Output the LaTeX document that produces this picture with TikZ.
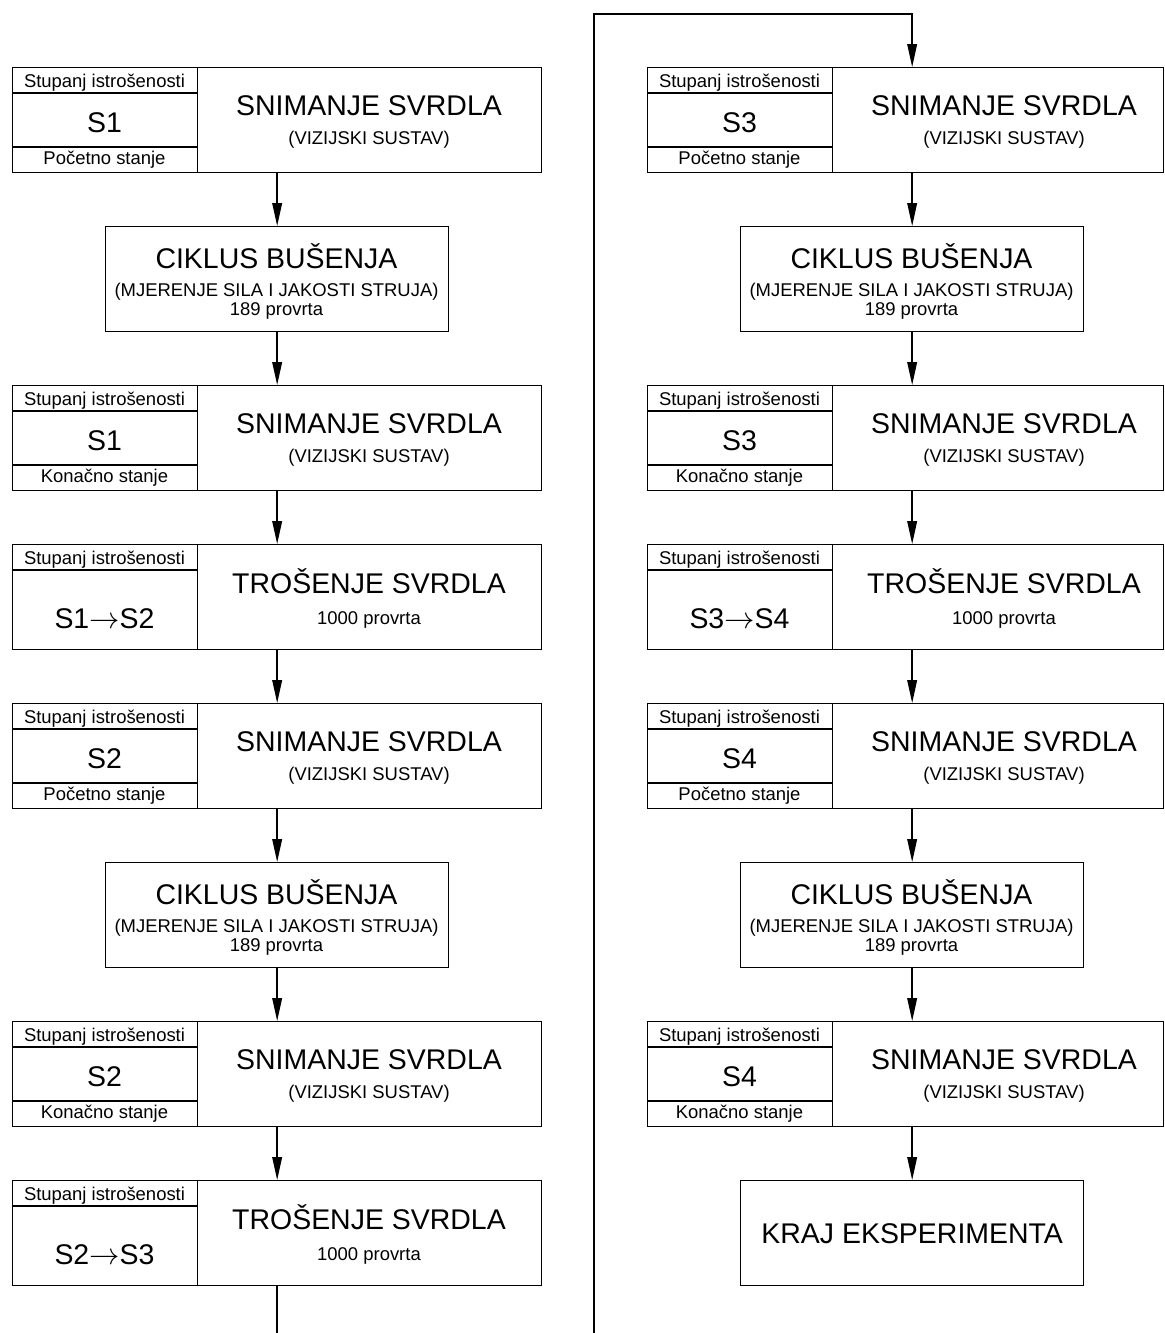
\documentclass[tikz,border=0pt]{standalone}
\usepackage{fontspec}
\setmainfont{Liberation Sans}
\usetikzlibrary{positioning,arrows.meta,calc}

\begin{document}
\begin{tikzpicture}[
    x=0.02cm, y=-0.02cm,
    box/.style={draw, line width=0.8pt, inner sep=0pt, anchor=north west, minimum height=2.1cm},
    big/.style={font=\fontsize{16.2pt}{18pt}\selectfont, inner sep=0pt, anchor=base},
    small/.style={font=\fontsize{10.5pt}{12pt}\selectfont, inner sep=0pt, anchor=base},
    arr/.style={line width=0.8pt, -{Triangle[length=13pt, width=5.5pt]}},
]
\useasboundingbox (0,0) rectangle (1165,1333);

% Snimanje svrdla
\foreach \n/\xo/\w/\tp/\st/\ft in {L1/0/344/67/S1/Početno stanje, L3/0/344/385/S1/Konačno stanje,
    L5/0/344/703/S2/Početno stanje, L7/0/344/1021/S2/Konačno stanje,
    R1/635/331/67/S3/Početno stanje, R3/635/331/385/S3/Konačno stanje,
    R5/635/331/703/S4/Početno stanje, R7/635/331/1021/S4/Konačno stanje} {
    \node[box, minimum width=3.7cm] (\n s) at (12+\xo,\tp) {};
    \node[box, minimum width=\w*0.02cm] (\n) at (197+\xo,\tp) {};
    \draw[line width=0.8pt] ($(\n s.north west)+(0,26)$) -- ($(\n s.north east)+(0,26)$);
    \draw[line width=0.8pt] ($(\n s.north west)+(0,80)$) -- ($(\n s.north east)+(0,80)$);
    \node[small] at (104.5+\xo,\tp+20) {Stupanj istrošenosti};
    \node[big] at (104.5+\xo,\tp+65) {\st};
    \node[small] at (104.5+\xo,\tp+97) {\ft};
    \node[big] at (369+\xo,\tp+48) {SNIMANJE SVRDLA};
    \node[small] at (369+\xo,\tp+77) {(VIZIJSKI SUSTAV)};
}

% Trosenje svrdla
\foreach \n/\xo/\w/\tp/\st in {L4/0/344/544/S1$\rightarrow$S2, L8/0/344/1180/S2$\rightarrow$S3, R4/635/331/544/S3$\rightarrow$S4} {
    \node[box, minimum width=3.7cm] (\n s) at (12+\xo,\tp) {};
    \node[box, minimum width=\w*0.02cm] (\n) at (197+\xo,\tp) {};
    \draw[line width=0.8pt] ($(\n s.north west)+(0,26)$) -- ($(\n s.north east)+(0,26)$);
    \node[small] at (104.5+\xo,\tp+20) {Stupanj istrošenosti};
    \node[big] at (104.5+\xo,\tp+84) {\st};
    \node[big] at (369+\xo,\tp+49.5) {TROŠENJE SVRDLA};
    \node[small] at (369+\xo,\tp+80) {1000 provrta};
}

% Ciklus busenja
\foreach \n/\xo/\tp in {L2/0/226, L6/0/862, R2/635/226, R6/635/862} {
    \node[box, minimum width=6.86cm] (\n) at (105+\xo,\tp) {};
    \node[big] at (276.5+\xo,\tp+42) {CIKLUS BUŠENJA};
    \node[small] at (276.5+\xo,\tp+70) {(MJERENJE SILA I JAKOSTI STRUJA)};
    \node[small] at (276.5+\xo,\tp+89) {189 provrta};
}

\node[box, minimum width=6.86cm, font=\fontsize{16.2pt}{18pt}\selectfont] (R8) at (740,1180) {KRAJ EKSPERIMENTA};

% arrows
\foreach \col in {L,R} {
    \foreach \a/\b in {1/2,2/3,3/4,4/5,5/6,6/7,7/8} {
        \draw[arr] (\col\a.south -| \col2.north) -- (\col\b.north -| \col2.north);
    }
}
\coordinate (loopbot) at (435,1350);
\coordinate (looptop) at (594,14);
\draw[arr] (L8.south -| L2.north) |- (loopbot) -| (looptop) -| (R1.north -| R2.north);
\end{tikzpicture}
\end{document}
